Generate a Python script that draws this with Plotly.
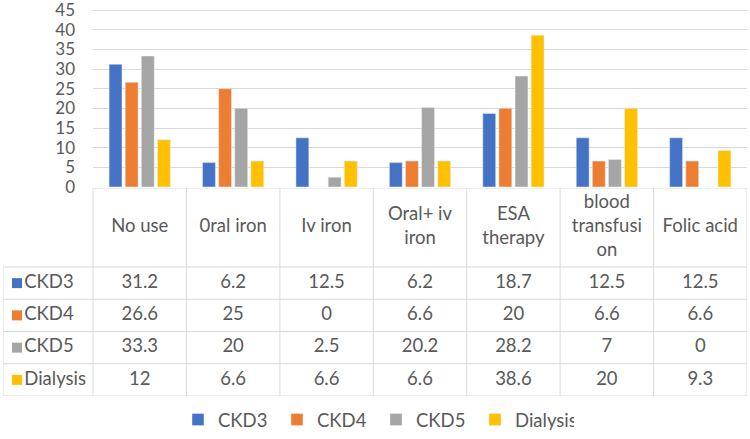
import plotly.graph_objects as go

# categories (x) and header labels as they are wrapped in the data table
categories = ["No use", "0ral iron", "Iv iron", "Oral+ iv iron", "ESA therapy",
              "blood transfusion", "Folic acid"]
header_labels = ["No use", "0ral iron", "Iv iron", "Oral+ iv<br>iron", "ESA<br>therapy",
                 "blood<br>transfusi<br>on", "Folic acid"]

series_names = ["CKD3", "CKD4", "CKD5", "Dialysis"]
ckd3 = [31.2, 6.2, 12.5, 6.2, 18.7, 12.5, 12.5]
ckd4 = [26.6, 25, 0, 6.6, 20, 6.6, 6.6]
ckd5 = [33.3, 20, 2.5, 20.2, 28.2, 7, 0]
dialysis = [12, 6.6, 6.6, 6.6, 38.6, 20, 9.3]

COLORS = ["#4472C4", "#ED7D31", "#A5A5A5", "#FFC000"]
TEXT = "#595959"
GRID = "#D9D9D9"
FONT = "Lato"
FS = 18.5

W, H = 750, 431     # the page adds a few px below the figure
# pixel layout of the Excel chart
plot_l, plot_r = 93, 747
table_l = 3
bar_top, bar_bot = 10, 187
tab_top, tab_bot = 188, 396
header_px = 79
legend_y = 420
y_max = 45
y_pad = 0.6         # small headroom so the 45 gridline is not on the domain edge

n_cat = len(categories)
n_rows = len(series_names)
col_px = (plot_r - plot_l) / n_cat
label_w = (plot_l - table_l) / col_px           # width of row-label column in column units
row_px = (tab_bot - tab_top - header_px) / n_rows
header_h = header_px / row_px                   # header height in row units
x2_min = -0.5 - label_w
y2_top = -0.5 - header_h
px_per_unit = (bar_bot - bar_top) / y_max
dom_top = bar_top - y_pad * px_per_unit

values = [ckd3, ckd4, ckd5, dialysis]

fig = go.Figure()

# --- bars ---
for name, vals, color in zip(series_names, values, COLORS):
    fig.add_trace(go.Bar(x=categories, y=vals, name=name, marker_color=color,
                         xaxis="x", yaxis="y"))

# --- data table: header, row labels, cells ---
fig.add_trace(go.Scatter(
    x=list(range(n_cat)), y=[-0.5 - header_h / 2] * n_cat, text=header_labels,
    mode="text", textposition="middle center", textfont=dict(size=FS, color=TEXT),
    xaxis="x2", yaxis="y2", showlegend=False, hoverinfo="skip", cliponaxis=False))

for r, (name, vals, color) in enumerate(zip(series_names, values, COLORS)):
    fig.add_trace(go.Scatter(
        x=[x2_min + 14 / col_px], y=[r], text=[name], mode="markers+text",
        textposition="middle right",
        marker=dict(symbol="square", size=10, color=color),
        textfont=dict(size=FS, color=TEXT),
        xaxis="x2", yaxis="y2", showlegend=False, hoverinfo="skip", cliponaxis=False))
    fig.add_trace(go.Scatter(
        x=list(range(n_cat)), y=[r] * n_cat, text=[str(v) for v in vals],
        mode="text", textposition="middle center", textfont=dict(size=FS, color=TEXT),
        xaxis="x2", yaxis="y2", showlegend=False, hoverinfo="skip", cliponaxis=False))

# table borders
line = dict(color=GRID, width=1)
shapes = []
for i in range(n_cat + 1):
    shapes.append(dict(type="line", xref="x2", yref="y2", x0=i - 0.5, x1=i - 0.5,
                       y0=y2_top, y1=n_rows - 0.5, line=line))
shapes.append(dict(type="line", xref="x2", yref="y2", x0=x2_min, x1=x2_min,
                   y0=-0.5, y1=n_rows - 0.5, line=line))
for j in range(n_rows + 1):
    shapes.append(dict(type="line", xref="x2", yref="y2", x0=x2_min, x1=n_cat - 0.5,
                       y0=j - 0.5, y1=j - 0.5, line=line))
shapes.append(dict(type="line", xref="x2", yref="y2", x0=-0.5, x1=n_cat - 0.5,
                   y0=y2_top, y1=y2_top, line=line))

fig.update_layout(
    width=W, height=H,
    margin=dict(l=0, r=0, t=0, b=0, autoexpand=False),
    paper_bgcolor="white", plot_bgcolor="white",
    font=dict(family=FONT, size=FS, color=TEXT),
    barmode="group", bargap=0.31, bargroupgap=0.2,
    xaxis=dict(domain=[plot_l / W, plot_r / W], anchor="y", showticklabels=False,
               showgrid=False, zeroline=False, showline=False, fixedrange=True),
    yaxis=dict(domain=[1 - bar_bot / H, 1 - dom_top / H], anchor="x",
               range=[0, y_max + y_pad], tickmode="linear", tick0=0, dtick=5,
               showgrid=True, gridcolor=GRID, gridwidth=1,
               zeroline=False, showline=False, ticklabelstandoff=17,
               ticklabeloverflow="allow", tickfont=dict(size=17, color=TEXT)),
    xaxis2=dict(domain=[table_l / W, plot_r / W], anchor="y2",
                range=[x2_min, n_cat - 0.5], visible=False),
    yaxis2=dict(domain=[1 - tab_bot / H, 1 - tab_top / H], anchor="x2",
                range=[n_rows - 0.5, y2_top], visible=False),
    shapes=shapes,
    legend=dict(orientation="h", x=178 / W, xanchor="left", y=1 - legend_y / H,
                yanchor="middle", font=dict(size=FS, color=TEXT),
                bgcolor="rgba(0,0,0,0)", traceorder="normal", itemwidth=30,
                entrywidth=54, entrywidthmode="pixels"),
)

fig.write_html(
    "out.html",
    config={"displayModeBar": False},
    post_script="document.body.style.margin='0';",
)
